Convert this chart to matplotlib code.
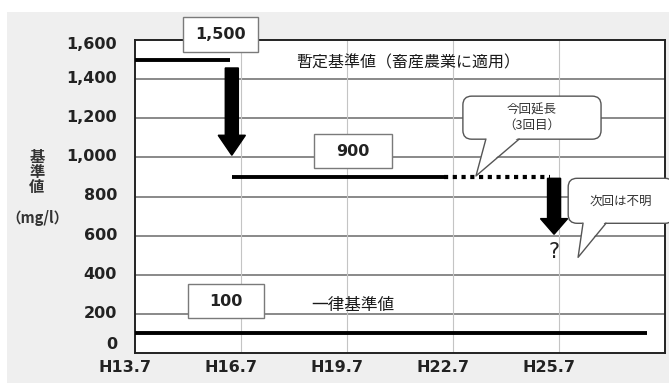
import matplotlib
matplotlib.use("Agg")
import matplotlib.pyplot as plt
from matplotlib.patches import Rectangle, FancyBboxPatch, Polygon, FancyArrow
from matplotlib.transforms import ScaledTranslation

# ---- data ----
x_ticks = [13.7, 16.7, 19.7, 22.7, 25.7]
x_tick_labels = ["H13.7", "H16.7", "H19.7", "H22.7", "H25.7"]
y_ticks = [0, 200, 400, 600, 800, 1000, 1200, 1400, 1600]

provisional_old = 1500          # H13.7 - H16.7
provisional_old_span = [13.7, 16.4]
provisional_new = 900           # H16.7 - H22.7, extended to H25.7
provisional_new_span = [16.45, 22.45]
provisional_ext_span = [22.45, 25.45]
uniform_std = 100
uniform_span = [13.7, 28.2]

JP = ["Noto Sans CJK JP", "DejaVu Sans"]

W, H, DPI = 669, 383, 100
fig = plt.figure(figsize=(W / DPI, H / DPI), dpi=DPI, facecolor="white")
fig.patches.append(Rectangle((7 / W, 0), 1, (H - 12) / H, transform=fig.transFigure,
                             facecolor="#efefef", edgecolor="none", zorder=-10))

ax = fig.add_axes([135 / W, 30 / H, 530 / W, 313 / H])
ax.set_facecolor("white")
ax.set_xlim(13.7, 28.7)
ax.set_ylim(0, 1600)

# grid
for y in y_ticks[1:-1]:
    ax.axhline(y, color="#6a6a6a", lw=1.1, zorder=1)
for x in x_ticks[1:]:
    ax.axvline(x, color="#c4c4c4", lw=0.8, zorder=1)

for s in ax.spines.values():
    s.set_color("#222222")
    s.set_linewidth(1.4)

ax.set_xticks(x_ticks)
ax.set_xticklabels(x_tick_labels, fontsize=11.5, fontweight="bold", color="#222222")
ax.set_yticks(y_ticks)
ax.set_yticklabels([f"{v:,}" for v in y_ticks], fontsize=11.5, fontweight="bold", color="#222222")
ax.tick_params(axis="both", length=0)
ax.tick_params(axis="y", pad=13)
ax.tick_params(axis="x", pad=5)
for lab in ax.get_xticklabels():
    lab.set_transform(lab.get_transform() + ScaledTranslation(-7 / 72, 0, fig.dpi_scale_trans))
ylabs = ax.get_yticklabels()
for lab in ylabs:
    lab.set_transform(lab.get_transform() + ScaledTranslation(0, 1.5 / 72, fig.dpi_scale_trans))
ylabs[0].set_transform(ylabs[0].get_transform() + ScaledTranslation(0, 6 / 72, fig.dpi_scale_trans))
ylabs[-1].set_transform(ylabs[-1].get_transform() + ScaledTranslation(0, -4 / 72, fig.dpi_scale_trans))

# standard lines
ax.plot(provisional_old_span, [provisional_old] * 2, color="black", lw=2.8,
        solid_capstyle="butt", zorder=3, clip_on=False)
ax.plot(provisional_new_span, [provisional_new] * 2, color="black", lw=2.8,
        solid_capstyle="butt", zorder=3)
ax.plot(provisional_ext_span, [provisional_new] * 2, color="black", lw=3,
        linestyle=(0, (1, 1.1)), dash_capstyle="butt", zorder=3)
ax.plot(uniform_span, [uniform_std] * 2, color="black", lw=2.8,
        solid_capstyle="butt", zorder=3)

# downward arrows
ax.add_patch(FancyArrow(16.44, 1457, 0, 1011 - 1457, width=0.37, head_width=0.77,
                        head_length=102, length_includes_head=True,
                        color="black", zorder=4))
ax.add_patch(FancyArrow(25.56, 893, 0, 607 - 893, width=0.37, head_width=0.77,
                        head_length=80, length_includes_head=True,
                        color="black", zorder=4))
ax.text(25.56, 514, "?", ha="center", va="center", fontsize=15, color="#222222",
        family="DejaVu Sans", zorder=5)

# value boxes
def value_box(x0, x1, y0, y1, label):
    ax.add_patch(Rectangle((x0, y0), x1 - x0, y1 - y0, facecolor="white",
                           edgecolor="#7a7a7a", lw=1.0, zorder=5, clip_on=False))
    ax.text((x0 + x1) / 2, (y0 + y1) / 2, label, ha="center", va="center",
            fontsize=11.5, fontweight="bold", color="#222222", zorder=6, clip_on=False)

value_box(15.06, 17.19, 1539, 1718, f"{provisional_old:,}")
value_box(18.78, 20.96, 944, 1118, f"{provisional_new:,}")
value_box(15.2, 17.36, 177, 351, f"{uniform_std:,}")

ax.text(21.43, 1484, "暫定基準値（畜産農業に適用）", ha="center", va="center",
        fontsize=11.5, family=JP, color="#1a1a1a", zorder=6)
ax.text(19.87, 243, "一律基準値", ha="center", va="center",
        fontsize=12, family=JP, color="#1a1a1a", zorder=6)

# speech-bubble callouts
aspect = (1600 / 313) / (15 / 530)

def callout(x0, x1, y0, y1, base, tip, text, fs):
    ax.add_patch(FancyBboxPatch((x0, y0), x1 - x0, y1 - y0,
                                boxstyle="round,pad=0,rounding_size=0.25",
                                mutation_aspect=aspect, facecolor="white",
                                edgecolor="#555555", lw=1.0, zorder=6, clip_on=False))
    ax.add_patch(Polygon([(base[0], y0 + 12), (base[1], y0 + 12), tip], closed=True,
                         facecolor="white", edgecolor="none", zorder=7, clip_on=False))
    ax.plot([base[0], tip[0], base[1]], [y0, tip[1], y0], color="#555555", lw=1.0,
            zorder=8, clip_on=False)
    ax.text((x0 + x1) / 2, (y0 + y1) / 2, text, ha="center", va="center",
            fontsize=fs, family=JP, color="#333333", linespacing=1.3, zorder=9,
            clip_on=False)

callout(22.98, 26.89, 1093, 1313, (23.63, 24.57), (23.35, 905),
        "今回延長\n（3回目）", 9)
callout(25.96, 28.95, 663, 893, (26.38, 27.03), (26.24, 489),
        "次回は不明", 9)

# y-axis title
fig.text(37 / W, 1 - 172 / H, "基\n準\n値", ha="center", va="center", fontsize=11,
         fontweight="bold", family=JP, color="#333333", linespacing=0.95)
fig.text(37 / W, 1 - 218 / H, "（mg/l）", ha="center", va="center", fontsize=10.5,
         fontweight="bold", family=JP, color="#333333")

fig.savefig("out.png", dpi=DPI, facecolor=fig.get_facecolor())
